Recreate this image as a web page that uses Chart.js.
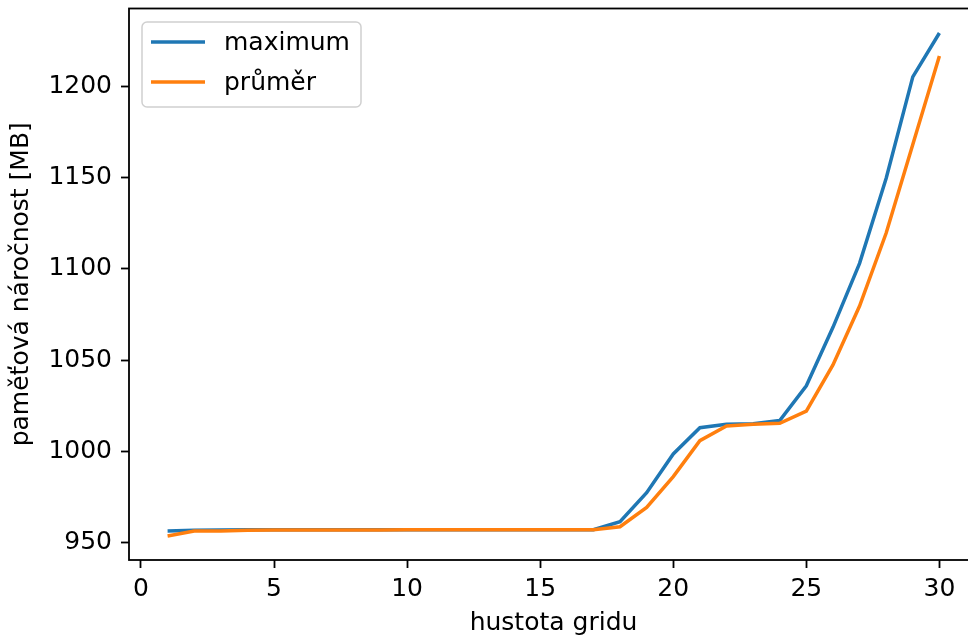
<!DOCTYPE html>
<html>
<head>
<meta charset="utf-8">
<script src="https://cdn.jsdelivr.net/npm/chart.js@4"></script>
<style>
  html, body { margin: 0; padding: 0; background: #fff; overflow: hidden; }
  #clip { width: 968px; height: 639px; overflow: hidden; position: relative; }
  #wrap { width: 980px; height: 639px; position: relative; }
</style>
</head>
<body>
<div id="clip"><div id="wrap"><canvas id="chart"></canvas></div></div>
<script>
const gridDensity = [1, 2, 3, 4, 5, 6, 7, 8, 9, 10, 11, 12, 13, 14, 15, 16, 17, 18, 19, 20, 21, 22, 23, 24, 25, 26, 27, 28, 29, 30];
const maximum = [956.6, 957.0, 957.1, 957.2, 957.2, 957.2, 957.2, 957.2, 957.2, 957.3, 957.3, 957.3, 957.3, 957.3, 957.3, 957.3, 957.3,
  961.7, 977.5, 998.7, 1013.1, 1015.0, 1015.3, 1017.0, 1036.0, 1068.0, 1103.0, 1149.5, 1205.0, 1229.0];
const prumer = [953.8, 956.5, 956.6, 957.0, 957.1, 957.1, 957.1, 957.1, 957.1, 957.2, 957.2, 957.2, 957.2, 957.2, 957.2, 957.2, 957.2,
  958.9, 969.5, 986.3, 1006.0, 1014.0, 1015.0, 1015.5, 1022.2, 1047.4, 1079.6, 1119.6, 1168.0, 1216.4];
const xTicks = [0, 5, 10, 15, 20, 25, 30];
const yTicks = [950, 1000, 1050, 1100, 1150, 1200];
const seriesNames = ['maximum', 'průměr'];
const colors = ['#1f77b4', '#ff7f0e'];

const FONT = 'DejaVu Sans';
const FS = 25;

// frame around the plot + matplotlib style legend
const framePlugin = {
  id: 'frame',
  afterDraw(chart) {
    const { ctx, chartArea: a } = chart;
    ctx.save();
    ctx.strokeStyle = '#000';
    ctx.lineWidth = 1.8;
    ctx.strokeRect(a.left, a.top, a.right - a.left, a.bottom - a.top);

    // legend box
    const bx = 142, by = 22, bw = 219, bh = 85, r = 5;
    ctx.beginPath();
    ctx.roundRect(bx, by, bw, bh, r);
    ctx.fillStyle = 'rgba(255,255,255,0.8)';
    ctx.fill();
    ctx.strokeStyle = '#d0d0d0';
    ctx.lineWidth = 1.5;
    ctx.stroke();

    ctx.font = FS + 'px "' + FONT + '"';
    ctx.textBaseline = 'middle';
    ctx.fillStyle = '#000';
    seriesNames.forEach((name, i) => {
      const y = 42 + i * 40;
      ctx.beginPath();
      ctx.moveTo(151, y);
      ctx.lineTo(205, y);
      ctx.strokeStyle = colors[i];
      ctx.lineWidth = 3.5;
      ctx.stroke();
      ctx.fillText(name, 224, y + 1);
    });
    ctx.restore();
  }
};

new Chart(document.getElementById('chart'), {
  type: 'line',
  data: {
    datasets: [
      {
        label: seriesNames[0],
        data: gridDensity.map((x, i) => ({ x: x, y: maximum[i] })),
        borderColor: colors[0],
        borderWidth: 3.5,
        pointRadius: 0,
        order: 1
      },
      {
        label: seriesNames[1],
        data: gridDensity.map((x, i) => ({ x: x, y: prumer[i] })),
        borderColor: colors[1],
        borderWidth: 3.5,
        pointRadius: 0,
        order: 0
      }
    ]
  },
  options: {
    responsive: true,
    maintainAspectRatio: false,
    animation: false,
    layout: { padding: { top: 8.5, right: 2, left: 0, bottom: 0 } },
    plugins: {
      legend: { display: false },
      tooltip: { enabled: false }
    },
    scales: {
      x: {
        type: 'linear',
        min: -0.45,
        max: 31.45,
        afterBuildTicks: scale => { scale.ticks = xTicks.map(v => ({ value: v })); },
        afterFit: scale => { scale.height = 79; scale.paddingLeft = 0; scale.paddingRight = 0; },
        grid: { drawOnChartArea: false, drawTicks: true, tickLength: 8, tickColor: '#000', tickWidth: 1.8 },
        border: { display: false },
        ticks: { color: '#000', font: { family: FONT, size: FS }, padding: 6, maxRotation: 0, callback: v => String(v) },
        title: { display: true, text: 'hustota gridu', color: '#000', font: { family: FONT, size: FS }, padding: { top: 0, bottom: 1 } }
      },
      y: {
        min: 940.7,
        max: 1242.4,
        afterBuildTicks: scale => { scale.ticks = yTicks.map(v => ({ value: v })); },
        afterFit: scale => { scale.width = 129; scale.paddingTop = 0; scale.paddingBottom = 0; },
        grid: { drawOnChartArea: false, drawTicks: true, tickLength: 8, tickColor: '#000', tickWidth: 1.8 },
        border: { display: false },
        ticks: { color: '#000', font: { family: FONT, size: FS }, padding: 9, callback: v => String(v) },
        title: { display: true, text: 'paměťová náročnost [MB]', color: '#000', font: { family: FONT, size: FS }, padding: { top: 6, bottom: 0 } }
      }
    }
  },
  plugins: [framePlugin]
});
</script>
</body>
</html>
